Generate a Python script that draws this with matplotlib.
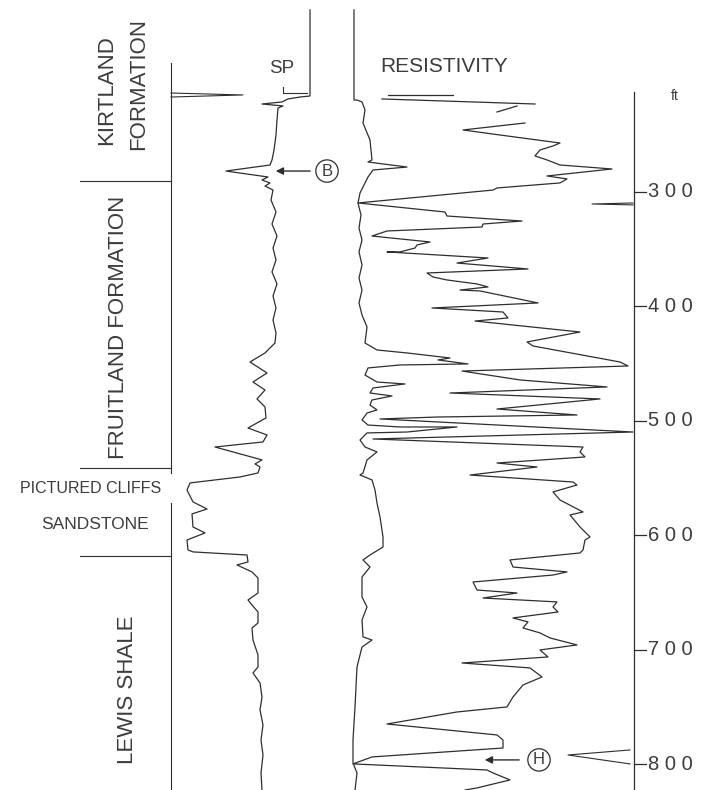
import matplotlib.pyplot as plt

plt.rcParams["font.family"] = ["Liberation Sans", "DejaVu Sans"]

INK = "#2e2e2e"
TXT = "#3c3c3c"

# depth scale (ft), increasing downwards
depth_top, depth_bottom = 132.2, 822.7
depth_ticks = [300, 400, 500, 600, 700, 800]

# SP curve: deflection units vs depth (ft)
sp_x = [310, 310, 300, 288, 282, 262, 283, 278, 277, 276, 274, 272, 270, 226, 268, 262,
        270, 265, 273, 271, 276, 272, 277, 273, 276, 272, 277, 273, 276, 273, 276, 275,
        265, 250, 267, 253, 265, 257, 265, 266, 248, 267, 263, 215, 262, 255, 260, 258,
        240, 190, 187, 193, 207, 192, 193, 205, 187, 188, 193, 247, 248, 237, 252, 258,
        258, 248, 252, 258, 258, 252, 253, 258, 258, 253, 260, 262, 260, 263, 261, 263,
        261, 262]
sp_depth = [140.9, 216.1, 217.0, 218.7, 221.3, 223.1, 224.8, 226.6, 237.1, 250.2, 263.3,
            272.0, 276.4, 281.7, 286.9, 289.5, 292.1, 294.8, 298.3, 307.0, 317.5, 328.0,
            338.5, 349.0, 359.4, 369.9, 380.4, 390.9, 401.4, 411.9, 423.2, 432.0, 440.7,
            448.6, 458.2, 466.1, 473.1, 480.9, 487.9, 497.5, 506.3, 512.4, 518.5, 522.9,
            534.2, 537.7, 540.4, 545.6, 549.1, 554.3, 560.5, 570.9, 577.1, 581.4, 592.8,
            598.0, 604.2, 612.9, 614.6, 617.3, 623.4, 626.0, 632.1, 637.4, 650.5, 656.6,
            661.0, 667.1, 676.7, 681.1, 691.6, 704.7, 715.2, 720.4, 729.1, 741.4, 752.7,
            765.9, 779.0, 792.1, 807.8, 822.7]

# shallow resistivity curve (left trace of the resistivity track)
sh_x = [354, 354, 357, 362, 365, 363, 370, 372, 368, 407, 373, 368, 360, 358, 361, 359,
        362, 359, 362, 359, 362, 359, 362, 367, 365, 377, 407, 450, 438, 468, 400, 368,
        365, 377, 405, 373, 370, 392, 372, 370, 377, 367, 362, 368, 400, 457, 407, 367,
        360, 365, 377, 367, 363, 360, 372, 375, 377, 380, 383, 383, 370, 363, 370, 362,
        362, 367, 362, 363, 372, 362, 357, 355, 353, 353, 357, 355]
sh_depth = [140.9, 219.6, 219.6, 221.3, 228.3, 239.7, 254.6, 272.0, 273.8, 278.2, 280.8,
            286.9, 300.9, 309.6, 320.1, 331.5, 342.0, 352.4, 363.8, 375.2, 385.7, 397.0,
            407.5, 418.0, 432.0, 438.1, 440.7, 445.1, 446.8, 450.3, 451.2, 453.8, 460.0,
            466.1, 467.8, 471.3, 475.7, 478.3, 481.8, 486.2, 490.5, 493.2, 499.3, 503.7,
            505.4, 505.4, 509.8, 510.6, 516.8, 522.9, 527.2, 534.2, 545.6, 547.4, 551.7,
            560.5, 571.8, 584.1, 601.5, 610.3, 617.3, 621.6, 627.8, 636.5, 654.0, 662.7,
            674.1, 688.9, 691.6, 697.7, 715.2, 750.1, 779.0, 799.1, 807.8, 822.7]

# deep resistivity curve
res_x = [525, 463, 500, 560, 553, 540, 535, 547, 560, 612, 547, 567, 560, 497, 493, 358,
         445, 447, 522, 483, 482, 387, 372, 430, 417, 415, 400, 387, 488, 457, 528, 427,
         433, 447, 477, 488, 460, 480, 538, 432, 503, 508, 475, 580, 527, 533, 620, 628,
         462, 520, 607, 450, 600, 497, 577, 437, 380, 633, 373, 583, 580, 585, 497, 537,
         470, 573, 577, 553, 560, 583, 570, 580, 590, 585, 583, 580, 510, 513, 567, 553,
         473, 477, 517, 483, 557, 553, 558, 513, 528, 523, 540, 550, 577, 540, 548, 462,
         530, 542, 523, 513, 507, 457, 387, 497, 503, 503, 372, 353, 487, 493, 510, 477,
         465]
res_depth = [239.7, 245.8, 250.2, 257.2, 259.8, 263.3, 268.5, 272.0, 276.4, 279.9, 286.0,
             288.6, 292.1, 296.5, 298.3, 309.6, 317.5, 321.0, 325.4, 328.0, 330.6, 334.1,
             338.5, 343.7, 346.3, 349.0, 352.4, 352.4, 357.7, 362.1, 367.3, 370.8, 374.3,
             376.9, 380.4, 383.0, 385.7, 386.5, 397.0, 401.4, 404.9, 410.1, 412.8, 422.4,
             431.1, 434.6, 448.6, 452.1, 456.5, 464.3, 470.4, 475.7, 480.9, 489.7, 494.9,
             496.7, 498.4, 509.8, 515.9, 522.9, 527.2, 531.6, 536.9, 540.4, 547.4, 553.5,
             556.1, 562.2, 569.2, 579.7, 582.3, 592.8, 601.5, 604.2, 612.9, 615.5, 621.6,
             627.8, 632.1, 634.8, 640.9, 647.9, 650.5, 654.9, 658.3, 662.7, 667.1, 672.3,
             675.8, 681.1, 685.4, 689.8, 695.9, 700.3, 706.4, 711.7, 716.0, 723.9, 730.9,
             741.4, 750.1, 754.5, 765.0, 774.6, 779.0, 786.0, 793.8, 799.9, 805.2, 807.8,
             813.9, 820.9, 822.7]

# short loose pen strokes at the top of the resistivity track
res_top_x = [[388, 453], [382, 535], [497, 517]]
res_top_depth = [[215.2, 215.2], [218.7, 223.1], [230.1, 224.8]]

# spikes drawn against track edges
spike_x = [[171, 243, 171], [633, 592, 633], [630, 568, 630]]
spike_depth = [[213.5, 215.2, 217.0], [309.6, 310.5, 311.3], [787.7, 792.1, 799.9]]

# formation tops (ft)
tops = [290.4, 541.2, 618.1]

fig = plt.figure(figsize=(7.07, 7.90), dpi=100)
ax = fig.add_axes([0, 0, 1, 1])
ax.set_xlim(0, 707)
ax.set_ylim(depth_bottom, depth_top)
ax.axis("off")

lw = 0.9
ax.plot(sp_x, sp_depth, color=INK, lw=lw)
ax.plot(sh_x, sh_depth, color=INK, lw=lw)
ax.plot(res_x, res_depth, color=INK, lw=lw)
for xs, ds in zip(res_top_x, res_top_depth):
    ax.plot(xs, ds, color=INK, lw=lw)
for xs, ds in zip(spike_x, spike_depth):
    ax.plot(xs, ds, color=INK, lw=0.8)

# small bracket near SP heading
ax.plot([283, 283, 307], [208.2, 213.5, 213.5], color=INK, lw=0.8)

# formation column
ax.plot([171, 171], [187.3, 545.6], color=INK, lw=0.8)
ax.plot([171, 171], [571.8, depth_bottom], color=INK, lw=0.8)
for t in tops:
    ax.plot([80, 171], [t, t], color=INK, lw=0.8)

# depth scale
ax.plot([634, 634], [212.6, depth_bottom], color=INK, lw=0.9)
for d in depth_ticks:
    ax.plot([634, 646], [d, d], color=INK, lw=0.9)
    ax.text(648, d, " ".join(str(d)), fontsize=14.5, color=TXT, ha="left", va="center")
ax.text(675, 216, "ft", fontsize=10, color=TXT, ha="center", va="center")

# headings
ax.text(281.5, 192.1, "SP", fontsize=13.5, color=TXT, ha="center", va="center")
ax.text(444.5, 190.3, "RESISTIVITY", fontsize=15, color=TXT, ha="center", va="center")

# formation names
rot = dict(rotation=90, fontsize=16, color=TXT, ha="center", va="center")
ax.text(107, 210.9, "KIRTLAND", **rot)
ax.text(138.5, 205.2, "FORMATION", **rot)
ax.text(119, 418.0, "FRUITLAND FORMATION", **rot)
ax.text(127.5, 735.3, "LEWIS SHALE", **rot)
ax.text(91, 559.6, "PICTURED CLIFFS", fontsize=11.5, color=TXT, ha="center", va="center")
ax.text(94.5, 590.6, "SANDSTONE", fontsize=12.5, color=TXT, ha="center", va="center")

# markers B and H
for label, x_tip, x_tail, x_c, d in [("B", 273, 313, 327, 281.7), ("H", 482, 522, 539, 796.4)]:
    ax.annotate("", xy=(x_tip, d), xytext=(x_tail, d),
                arrowprops=dict(arrowstyle="-|>", color=INK, lw=1.0, mutation_scale=11))
    ax.text(x_c, d, label, fontsize=12, color=TXT, ha="center", va="center",
            bbox=dict(boxstyle="circle,pad=0.22", fc="white", ec=INK, lw=0.9))

fig.savefig("out.png", dpi=100)
